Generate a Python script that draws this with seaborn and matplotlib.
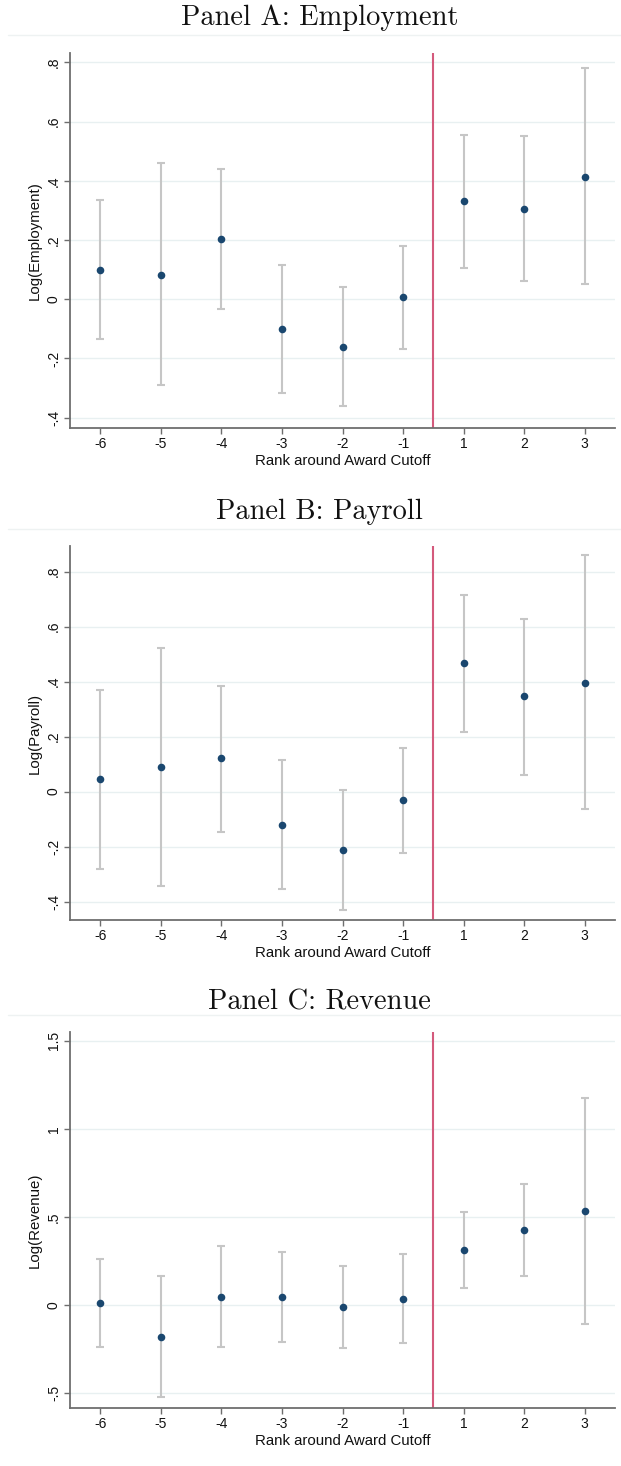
import numpy as np
import pandas as pd
import matplotlib
matplotlib.use("Agg")
import matplotlib.pyplot as plt
from matplotlib.ticker import FuncFormatter, FixedLocator
from matplotlib.lines import Line2D
import seaborn as sns

# Event-study estimates by rank around the award cutoff
ranks = ["-6", "-5", "-4", "-3", "-2", "-1", "1", "2", "3"]

emp_est = [0.100, 0.082, 0.204, -0.102, -0.160, 0.007, 0.331, 0.306, 0.414]
emp_lo = [-0.134, -0.290, -0.033, -0.318, -0.359, -0.167, 0.107, 0.061, 0.053]
emp_hi = [0.335, 0.459, 0.441, 0.115, 0.040, 0.179, 0.555, 0.553, 0.780]

pay_est = [0.047, 0.090, 0.121, -0.120, -0.213, -0.032, 0.467, 0.347, 0.396]
pay_lo = [-0.280, -0.342, -0.147, -0.356, -0.430, -0.224, 0.217, 0.062, -0.065]
pay_hi = [0.368, 0.521, 0.385, 0.116, 0.005, 0.160, 0.716, 0.629, 0.859]

rev_est = [0.011, -0.182, 0.049, 0.049, -0.013, 0.036, 0.311, 0.426, 0.536]
rev_lo = [-0.237, -0.523, -0.237, -0.206, -0.242, -0.212, 0.098, 0.165, -0.108]
rev_hi = [0.261, 0.165, 0.335, 0.299, 0.225, 0.292, 0.528, 0.688, 1.174]

panel_titles = ["Panel A: Employment", "Panel B: Payroll", "Panel C: Revenue"]
y_labels = ["Log(Employment)", "Log(Payroll)", "Log(Revenue)"]
x_label = "Rank around Award Cutoff"
y_ticks = [[-0.4, -0.2, 0, 0.2, 0.4, 0.6, 0.8],
           [-0.4, -0.2, 0, 0.2, 0.4, 0.6, 0.8],
           [-0.5, 0, 0.5, 1, 1.5]]
y_limits = [(-0.435, 0.832), (-0.467, 0.893), (-0.583, 1.549)]

panels = [(emp_est, emp_lo, emp_hi), (pay_est, pay_lo, pay_hi), (rev_est, rev_lo, rev_hi)]

sns.set_theme(style="white")
plt.rcParams["font.family"] = ["Liberation Sans", "DejaVu Sans"]
plt.rcParams["axes.unicode_minus"] = False

W, H = 621, 1466
fig = plt.figure(figsize=(W / 100, H / 100), dpi=100)

# pixel boxes (top, bottom) for each plot region
boxes = [(53, 428), (546, 920), (1032, 1408)]
title_y = [18, 512, 1002]
sep_y = [35, 529, 1015]
left_px, right_px = 70, 615

navy = "#1a476f"
ci_gray = "#c6c6c6"
axis_gray = "#6e6e6e"
grid_col = "#e8f0f1"
cut_red = "#d45a7c"


def fmt(v, pos=None):
    s = f"{v:g}"
    if s.startswith("0.") and len(s) > 2:
        s = s[1:]
    elif s.startswith("-0."):
        s = "-" + s[2:]
    return s


for i, (est, lo, hi) in enumerate(panels):
    top, bot = boxes[i]
    ax = fig.add_axes([left_px / W, 1 - bot / H, (right_px - left_px) / W, (bot - top) / H])
    df = pd.DataFrame({"pos": np.arange(len(ranks)), "est": est, "lo": lo, "hi": hi})

    ax.yaxis.set_major_locator(FixedLocator(y_ticks[i]))
    for t in y_ticks[i]:
        ax.axhline(t, color=grid_col, lw=1.0, zorder=0)

    ax.errorbar(df["pos"], df["est"],
                yerr=[df["est"] - df["lo"], df["hi"] - df["est"]],
                fmt="none", ecolor=ci_gray, elinewidth=1.5, capsize=3.2,
                capthick=1.5, zorder=2)
    sns.scatterplot(data=df, x="pos", y="est", ax=ax, color=navy, s=30,
                    linewidth=0, zorder=3)
    ax.axvline(5.5, color=cut_red, lw=1.5, zorder=1)

    ax.set_xlim(-0.5, 8.5)
    ax.set_ylim(*y_limits[i])
    ax.set_xticks(df["pos"])
    ax.set_xticklabels(ranks)
    ax.yaxis.set_major_formatter(FuncFormatter(fmt))

    for side in ["top", "right"]:
        ax.spines[side].set_visible(False)
    for side in ["left", "bottom"]:
        ax.spines[side].set_color(axis_gray)
        ax.spines[side].set_linewidth(1.3)
    ax.tick_params(axis="both", which="major", direction="out", length=4,
                   width=1.0, color=axis_gray, labelsize=10, labelcolor="#111111",
                   left=True, bottom=True, pad=2.5)
    for lab in ax.get_yticklabels():
        lab.set_rotation(90)
        lab.set_va("center")
    ax.set_xlabel(x_label, fontsize=10.8, color="#111111", labelpad=2)
    ax.set_ylabel(y_labels[i], fontsize=10.8, color="#111111", labelpad=4)
    ax.grid(False)

    fig.text(0.515, 1 - title_y[i] / H, panel_titles[i], ha="center", va="center",
             fontsize=20.5, family="cmr10", color="#111111")
    fig.add_artist(Line2D([8 / W, 1], [1 - sep_y[i] / H] * 2, color="#eef2f2", lw=1.0))

fig.savefig("out.png", dpi=100, facecolor="white")
